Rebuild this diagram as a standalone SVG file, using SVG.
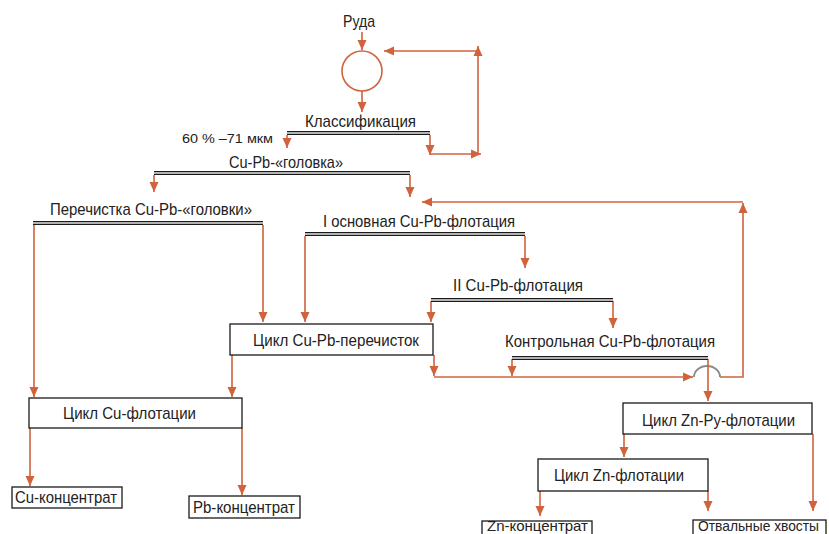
<svg xmlns="http://www.w3.org/2000/svg" width="829" height="534" viewBox="0 0 829 534">
<defs>
<style>
.t{font-family:"Liberation Sans",Arial,sans-serif;font-size:17px;fill:#222}
.s{font-size:13.5px}
.b{font-size:15px}
.a{fill:none;stroke:#D0623C;stroke-width:1.6;marker-end:url(#ah)}
.dO{stroke:#1a1a1a;stroke-width:4.2}
.dI{stroke:#e6e6e6;stroke-width:1.4}
.box{fill:#fff;stroke:#1a1a1a;stroke-width:1.3}
.hop{fill:none;stroke:#8a8a8a;stroke-width:1.8}
</style>
<marker id="ah" markerUnits="userSpaceOnUse" markerWidth="10" markerHeight="12" viewBox="0 0 10 12" refX="10" refY="6" orient="auto">
<path d="M0,1.5 L10,6 L0,10.5 Z" fill="#D0623C"/>
</marker>
</defs>
<rect width="829" height="534" fill="#fff"/>

<g id="connectors">
<path class="a" d="M362 32 V50"/>
<path class="a" d="M362 91 V112"/>
<path class="a" d="M287 135 V148"/>
<path class="a" d="M430 135 V155"/>
<path class="a" d="M430 154 H481"/>
<path class="a" d="M478 155 V46"/>
<path class="a" d="M478 51 H384"/>
<path class="a" d="M154 175 V192"/>
<path class="a" d="M410 175 V197"/>
<path class="a" d="M720 377 H743 V203"/>
<path class="a" d="M743 202 H422"/>
<path class="a" d="M34 225 V397"/>
<path class="a" d="M263 225 V322"/>
<path class="a" d="M305 236 V322"/>
<path class="a" d="M525 236 V268"/>
<path class="a" d="M431 301 V322"/>
<path class="a" d="M613 301 V328"/>
<path class="a" d="M232 355 V397"/>
<path class="a" d="M434 355 V376"/>
<path class="a" d="M434 377 H693"/>
<path class="a" d="M512 359 V376"/>
<path class="hop" d="M694 377 A13 11 0 0 1 720 377"/>
<path class="a" d="M708 359 V401"/>
<path class="a" d="M624 434 V457"/>
<path class="a" d="M813 434 V511"/>
<path class="a" d="M540 491 V516"/>
<path class="a" d="M708 491 V511"/>
<path class="a" d="M30 428 V486"/>
<path class="a" d="M242 428 V495"/>
</g>

<g id="ruda"><text class="t" x="343" y="27" textLength="32" lengthAdjust="spacingAndGlyphs">Руда</text></g>
<g id="mill"><circle cx="362" cy="71" r="20" fill="#fff" stroke="#D0623C" stroke-width="1.6"/></g>

<g id="classification">
<line class="dO" x1="287" y1="133" x2="430" y2="133"/><line class="dI" x1="287" y1="133" x2="430" y2="133"/>
<text class="t" x="305" y="127" textLength="111" lengthAdjust="spacingAndGlyphs">Классификация</text>
<text class="t s" x="182" y="143" textLength="91" lengthAdjust="spacingAndGlyphs">60 % –71 мкм</text>
</g>

<g id="golovka">
<line class="dO" x1="154" y1="173" x2="410" y2="173"/><line class="dI" x1="154" y1="173" x2="410" y2="173"/>
<text class="t" x="229" y="168" textLength="114" lengthAdjust="spacingAndGlyphs">Cu-Pb-«головка»</text>
</g>

<g id="perechistka">
<line class="dO" x1="33" y1="223" x2="263" y2="223"/><line class="dI" x1="33" y1="223" x2="263" y2="223"/>
<text class="t" x="50" y="215" textLength="202" lengthAdjust="spacingAndGlyphs">Перечистка Cu-Pb-«головки»</text>
</g>

<g id="osnovnaya">
<line class="dO" x1="305" y1="234" x2="525" y2="234"/><line class="dI" x1="305" y1="234" x2="525" y2="234"/>
<text class="t" x="323" y="227" textLength="192" lengthAdjust="spacingAndGlyphs">I основная Cu-Pb-флотация</text>
</g>

<g id="second">
<line class="dO" x1="431" y1="300" x2="613" y2="300"/><line class="dI" x1="431" y1="300" x2="613" y2="300"/>
<text class="t" x="453" y="291" textLength="130" lengthAdjust="spacingAndGlyphs">II Cu-Pb-флотация</text>
</g>

<g id="control">
<line class="dO" x1="512" y1="358" x2="708" y2="358"/><line class="dI" x1="512" y1="358" x2="708" y2="358"/>
<text class="t" x="505" y="347" textLength="210" lengthAdjust="spacingAndGlyphs">Контрольная Cu-Pb-флотация</text>
</g>

<g id="cupb-cycle">
<rect class="box" x="230" y="324" width="203" height="31"/>
<text class="t" x="253" y="346" textLength="166" lengthAdjust="spacingAndGlyphs">Цикл Cu-Pb-перечисток</text>
</g>

<g id="cu-cycle">
<rect class="box" x="29" y="398" width="213" height="30"/>
<text class="t" x="63" y="419" textLength="133" lengthAdjust="spacingAndGlyphs">Цикл Cu-флотации</text>
</g>

<g id="znpy-cycle">
<rect class="box" x="623" y="403" width="189" height="31"/>
<text class="t" x="642" y="426" textLength="153" lengthAdjust="spacingAndGlyphs">Цикл Zn-Py-флотации</text>
</g>

<g id="zn-cycle">
<rect class="box" x="538" y="459" width="170" height="32"/>
<text class="t" x="554" y="481" textLength="130" lengthAdjust="spacingAndGlyphs">Цикл Zn-флотации</text>
</g>

<g id="cu-conc">
<rect class="box" x="12" y="487" width="110" height="21"/>
<text class="t" x="15" y="503" textLength="102" lengthAdjust="spacingAndGlyphs">Cu-концентрат</text>
</g>

<g id="pb-conc">
<rect class="box" x="189" y="496" width="111" height="22"/>
<text class="t" x="193" y="513" textLength="102" lengthAdjust="spacingAndGlyphs">Pb-концентрат</text>
</g>

<g id="zn-conc">
<rect class="box" x="482" y="521" width="110" height="20"/>
<text class="t b" x="487" y="531" textLength="101" lengthAdjust="spacingAndGlyphs">Zn-концентрат</text>
</g>

<g id="tails">
<rect class="box" x="693" y="520" width="133" height="21"/>
<text class="t b" x="698" y="531" textLength="121" lengthAdjust="spacingAndGlyphs">Отвальные хвосты</text>
</g>
</svg>
